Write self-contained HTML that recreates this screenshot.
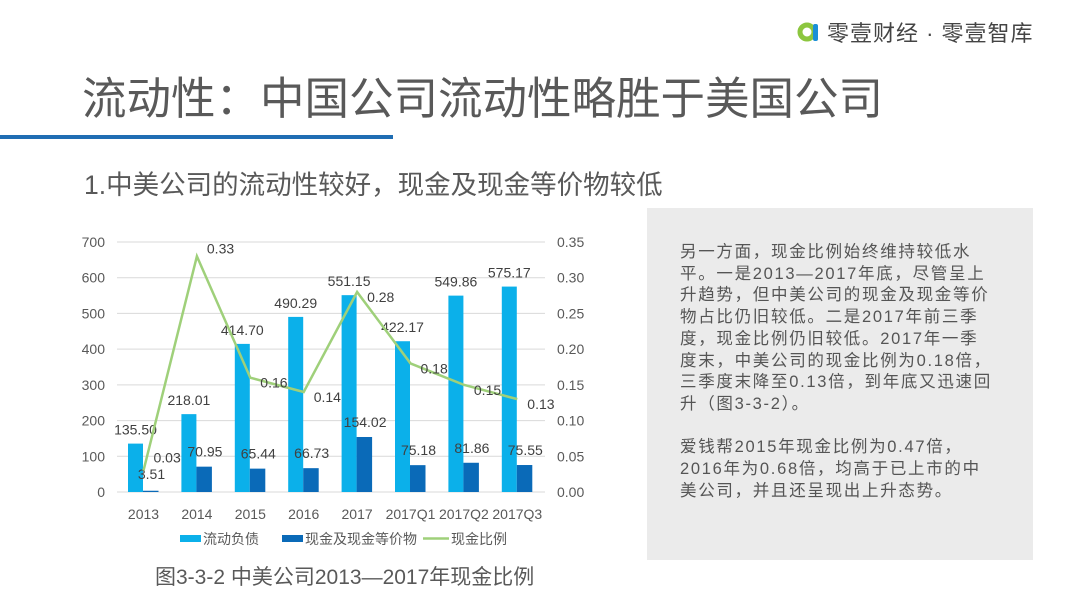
<!DOCTYPE html>
<html><head><meta charset="utf-8"><style>
body{margin:0;width:1080px;height:608px;background:#fff;overflow:hidden;position:relative;font-family:"Liberation Sans","Noto Sans CJK SC",sans-serif;color:#595959}
.abs{position:absolute;white-space:nowrap}
</style></head><body>
<div class="abs" style="left:797px;top:16px;font-size:22px;letter-spacing:1px;color:#444;display:flex;align-items:center">
<svg width="24" height="22"><circle cx="10" cy="11" r="7" fill="none" stroke="#8cc63f" stroke-width="5"/><rect x="16" y="3" width="5" height="17" rx="2" fill="#1a8fd6"/></svg>
<span style="margin-left:6px">零壹财经 · 零壹智库</span></div>
<div class="abs" style="left:82px;top:62px;font-size:44.5px;color:#595959">流动性：中国公司流动性略胜于美国公司</div>
<div class="abs" style="left:0;top:135px;width:393px;height:4px;background:#1f6db3"></div>
<div class="abs" style="left:84px;top:163px;font-size:26.5px">1.中美公司的流动性较好，现金及现金等价物较低</div>
<div class="abs" style="left:647px;top:208px;width:386px;height:352px;background:#ebebeb"></div>
<div class="abs" style="left:680px;top:242px;width:314px;white-space:normal;font-size:16.5px;letter-spacing:1.7px;line-height:21.7px;color:#555">另一方面，现金比例始终维持较低水平。一是2013—2017年底，尽管呈上升趋势，但中美公司的现金及现金等价物占比仍旧较低。二是2017年前三季度，现金比例仍旧较低。2017年一季度末，中美公司的现金比例为0.18倍，三季度末降至0.13倍，到年底又迅速回升（图3-3-2）。<br><br>爱钱帮2015年现金比例为0.47倍，2016年为0.68倍，均高于已上市的中美公司，并且还呈现出上升态势。</div>
<div class="abs" style="left:155px;top:561px;font-size:21px">图3-3-2 中美公司2013—2017年现金比例</div>
<svg id="chart" class="abs" style="left:0;top:0" width="1080" height="608"></svg>
<script>
const categories=["2013","2014","2015","2016","2017","2017Q1","2017Q2","2017Q3"];
const liabilities=[135.50,218.01,414.70,490.29,551.15,422.17,549.86,575.17];
const cash=[3.51,70.95,65.44,66.73,154.02,75.18,81.86,75.55];
const ratio=[0.03,0.33,0.16,0.14,0.28,0.18,0.15,0.13];
const leftTicks=[0,100,200,300,400,500,600,700];
const rightTicks=["0.00","0.05","0.10","0.15","0.20","0.25","0.30","0.35"];
const svg=document.getElementById('chart');const NS='http://www.w3.org/2000/svg';
function mk(t,a,txt){const e=document.createElementNS(NS,t);for(const k in a)e.setAttribute(k,a[k]);if(txt!==undefined)e.textContent=txt;svg.appendChild(e);return e;}
const y0=492,yTop=242,x0=117,x1=545;
const yL=v=>y0-(v/700)*(y0-yTop);
const yR=v=>y0-(v/0.35)*(y0-yTop);
const xC=i=>143.5+i*53.4;
leftTicks.forEach((t,i)=>{
 const g=mk('line',{x1:x0,x2:x1,y1:yL(t),y2:yL(t),stroke:'#d9d9d9','stroke-width':1});
 
 const l=mk('text',{x:105,y:yL(t)+5,'text-anchor':'end','font-size':14,fill:'#595959'},t);
 
 const r=mk('text',{x:557,y:yL(t)+5,'font-size':14,fill:'#595959'},rightTicks[i]);
 
});
categories.forEach((c,i)=>{
 const cx=xC(i);
 const b1=mk('rect',{x:cx-15.5,y:yL(liabilities[i]),width:15,height:y0-yL(liabilities[i]),fill:'#0bb0ea'});
 
 const b2=mk('rect',{x:cx-0.5,y:yL(cash[i]),width:15.5,height:y0-yL(cash[i]),fill:'#0a6ab8'});
 
 const t=mk('text',{x:cx,y:519,'text-anchor':'middle','font-size':14,fill:'#595959'},c);
 
 const l1=mk('text',{x:cx-8,y:yL(liabilities[i])-9,'text-anchor':'middle','font-size':14,fill:'#404040'},liabilities[i].toFixed(2));
 
 const l2=mk('text',{x:cx+8,y:i==0?479:yL(cash[i])-10,'text-anchor':'middle','font-size':14,fill:'#404040'},cash[i].toFixed(2));
 
});
const pts=ratio.map((v,i)=>xC(i)+','+yR(v)).join(' ');
const pl=mk('polyline',{points:pts,fill:'none',stroke:'#9fd07a','stroke-width':2.5});

ratio.forEach((v,i)=>{
 const t=mk('text',{x:xC(i)+10,y:yR(v)+(i==1?-3:i==0?-8:10),'font-size':14,fill:'#404040'},v.toFixed(2));
 
});
const lg=[[180,'rect','#0bb0ea','流动负债'],[282,'rect','#0a6ab8','现金及现金等价物'],[428,'line','#9fd07a','现金比例']];
lg.forEach(([x,k,c,n])=>{
 if(k=='rect'){const r=mk('rect',{x:x,y:535,width:21,height:7,fill:c});}
 else{const l=mk('line',{x1:x-5,x2:x+21,y1:538.5,y2:538.5,stroke:c,'stroke-width':2.5});}
 const t=mk('text',{x:x+23,y:544,'font-size':14,fill:'#595959'},n);
 
});
</script>
</body></html>
